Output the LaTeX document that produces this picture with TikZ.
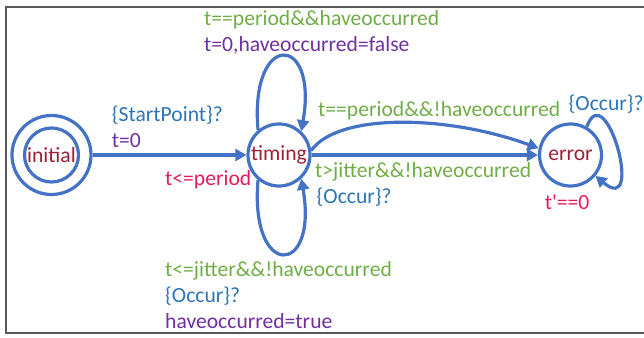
\documentclass[tikz,border=0pt]{standalone}
\usepackage{fontspec}
\newfontfamily\labelfont{Carlito}
\usetikzlibrary{arrows.meta}

\definecolor{edgeblue}{RGB}{68,114,196}
\definecolor{guardgreen}{RGB}{112,173,71}
\definecolor{updpurple}{RGB}{112,48,160}
\definecolor{syncblue}{RGB}{46,117,182}
\definecolor{statered}{RGB}{158,32,52}
\definecolor{invred}{RGB}{228,30,90}
\definecolor{framegray}{RGB}{89,89,89}

\begin{document}
\begin{tikzpicture}[x=1pt,y=-1pt,
  every node/.style={font=\labelfont\fontsize{21.6}{26}\selectfont},
  statenode/.style={circle,draw=edgeblue,line width=3.2pt,text=statered,inner sep=0pt},
  edge/.style={draw=edgeblue,line width=3.2pt,-{Triangle[length=11pt,width=12pt]}},
  lbl/.style={anchor=base west,inner sep=0pt},
  guard/.style={lbl,text=guardgreen},
  upd/.style={lbl,text=updpurple},
  sync/.style={lbl,text=syncblue},
  inv/.style={lbl,text=invred}]
  \useasboundingbox (0,0) rectangle (644,337);

  % frame
  \draw[framegray,line width=2pt] (644,6.7) -- (6,6.7) -- (6,332.7) -- (644,332.7);

  % states (y axis points down, so offset angles below are mirrored)
  \node[statenode,minimum size=54pt] (initial) at (51.5,155) {initial};
  \node[statenode,minimum size=79pt] (initialring) at (51.5,155) {};
  \node[statenode,minimum size=62pt] (timing) at (279,155) {timing};
  \node[statenode,minimum size=62pt] (error) at (570.5,155) {error};

  % transitions
  \draw[edge] (initialring) -- (timing);
  \draw[edge] (timing.130) .. controls +(-95:100) and +(-80:100) .. (timing.47);
  \draw[edge] (timing.-130) .. controls +(95:100) and +(80:100) .. (timing.-47);
  \draw[edge] (timing) -- (error);
  \draw[edge] (timing.8) .. controls +(-55:45) and +(-160:100) .. (error.168);
  \draw[edge] (error.60) .. controls +(-70:55) and +(40:65) .. (error.-40);

  % labels
  \node[guard] (g1) at (204,25.5) {t==period\&\&haveoccurred};
  \node[upd] (u1) at (204,51.5) {t=0,haveoccurred=false};
  \node[sync] (s1) at (111.7,121.7) {\{StartPoint\}?};
  \node[upd] (u2) at (111.7,147) {t=0};
  \node[inv] (i1) at (165,185) {t<=period};
  \node[guard] (g2) at (318,116.5) {t==period\&\&!haveoccurred};
  \node[sync] (s2) at (568.5,110) {\{Occur\}?};
  \node[guard] (g3) at (315,177) {t>jitter\&\&!haveoccurred};
  \node[sync] (s3) at (316.5,203) {\{Occur\}?};
  \node[inv] (i2) at (544.7,209) {t'==0};
  \node[guard] (g4) at (165,276.7) {t<=jitter\&\&!haveoccurred};
  \node[sync] (s4) at (165,302.7) {\{Occur\}?};
  \node[upd] (u3) at (165,328.3) {haveoccurred=true};
\end{tikzpicture}
\end{document}
